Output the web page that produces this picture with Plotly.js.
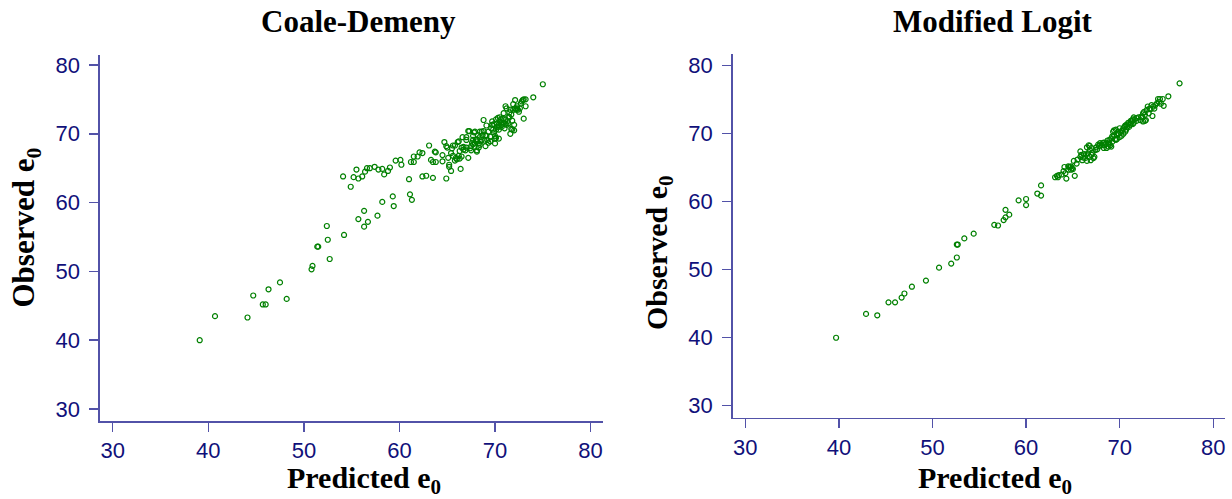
<!DOCTYPE html>
<html>
<head>
<meta charset="utf-8">
<script src="https://cdn.plot.ly/plotly-3.0.1.min.js"></script>
<style>
html,body{margin:0;padding:0;background:#fff;}
#chart{width:1232px;height:499px;}
</style>
</head>
<body>
<div id="chart"></div>
<script>
// Coale-Demeny: predicted vs observed life expectancy at birth
const cdPred = [
39.1,40.7,44.1,44.7,45.7,46.0,46.3,47.5,48.2,50.8,50.9,51.4,51.5,52.4,52.5,52.7,54.2,55.7,56.3,56.3,56.7,57.7,58.2,59.3,59.4,61.1,61.3,61.0,
54.1,54.9,55.2,55.7,56.1,55.5,56.4,56.6,56.9,57.4,57.8,58.2,58.4,58.8,59.0,59.6,60.1,60.2,61.2,61.5,61.5,61.9,62.1,62.4,63.1,63.3,63.5,63.8,62.4,62.8,63.5,63.7,63.8,64.5,64.5,64.7,64.9,65.0,64.9,65.1,65.2,65.2,65.4,65.4,65.6,65.8,65.6,65.9,66.1,66.2,66.2,66.3,66.4,66.5,66.6,66.7,67.0,67.2,67.2,67.3,
65.5,65.8,66.0,66.3,66.5,66.7,66.9,67.0,67.0,67.5,67.7,68.1,68.3,
67.4,67.5,67.6,67.7,67.7,67.8,67.9,68.0,68.1,68.1,68.2,68.3,68.4,68.4,68.5,68.6,68.7,68.8,68.8,68.9,69.0,69.1,69.1,69.2,69.3,69.5,69.6,69.7,69.7,69.8,69.9,70.0,70.0,70.1,70.1,70.2,70.2,70.3,70.4,70.4,70.5,70.6,70.7,70.7,70.8,70.9,70.9,71.0,71.1,71.1,71.2,71.2,71.3,71.4,71.5,71.6,71.6,71.7,71.8,71.8,71.9,71.9,72.0,72.0,72.1,72.1,72.2,72.3,72.3,72.4,72.5,72.6,72.7,72.8,72.9,73.0,73.0,73.2,73.2,74.0,75.0,
67.9,68.1,68.4,68.6,69.0,69.3,69.5,69.7,69.9,70.1,70.4,70.5,70.7,71.1,71.4,71.5,71.7,70.0,70.4
];
const cdObs = [
40.0,43.5,43.3,46.5,45.2,45.2,47.4,48.4,46.0,50.3,50.8,53.6,53.6,56.6,54.6,51.8,55.3,57.6,58.8,56.5,57.2,58.1,60.1,60.9,59.5,61.2,60.4,63.4,
63.8,62.3,63.7,63.5,63.8,64.8,64.5,65.0,65.0,65.2,64.8,64.9,64.1,64.6,65.1,66.1,66.2,65.5,65.9,65.9,66.7,66.7,67.3,67.2,68.3,66.2,65.9,65.9,63.8,63.9,63.6,67.4,67.3,66.9,66.0,68.8,68.2,68.0,63.5,66.5,65.5,65.2,64.6,67.2,68.3,68.3,66.8,66.5,68.8,68.9,66.8,66.4,64.9,68.0,69.5,67.7,69.5,66.5,70.4,70.4,
67.9,66.1,66.3,67.5,66.7,68.1,67.6,69.1,68.0,67.6,68.5,67.4,68.6,
67.9,68.2,68.7,69.1,69.7,70.2,68.6,69.1,67.6,69.2,69.8,68.0,70.3,69.5,68.9,69.1,69.8,70.4,72.0,69.0,68.2,69.7,71.2,69.1,68.7,68.9,70.8,71.8,71.3,70.6,70.2,69.7,69.3,69.4,72.1,71.0,71.5,72.3,70.6,71.3,71.8,72.1,71.0,71.3,72.2,71.6,73.0,70.8,72.1,74.0,73.7,71.3,71.8,72.5,73.1,73.5,70.0,70.7,71.9,70.6,73.5,74.3,71.3,70.5,74.9,73.7,73.5,73.7,74.0,73.5,73.2,73.7,74.4,74.7,74.9,72.2,75.0,74.0,75.0,75.3,77.2,
70.3,68.9,68.4,70.3,69.8,70.3,69.6,71.3,71.4,70.6,71.0,72.4,71.6,71.5,71.5,72.4,72.8,68.6,69.3
];

// Modified Logit: predicted vs observed life expectancy at birth
const mlPred = [
39.7,42.9,44.1,45.3,46.0,46.7,47.0,47.8,49.3,50.7,52.0,52.6,52.6,52.7,53.4,54.4,56.6,57.0,57.6,57.8,57.8,58.2,59.2,60.0,60.0,61.2,61.6,61.6,
63.1,63.3,63.5,63.4,64.1,64.3,64.5,64.7,64.9,64.8,65.0,65.2,64.2,64.5,65.4,65.5,65.8,65.8,66.0,66.3,66.4,66.5,65.9,66.6,66.8,66.8,66.9,67.0,67.1,67.2,66.7,66.5,66.8,
67.4,67.5,67.6,67.8,67.9,68.1,68.3,68.3,68.4,68.5,68.6,68.7,68.8,68.9,69.0,69.1,69.1,69.2,69.3,69.4,69.5,69.6,69.7,69.7,69.9,70.0,70.0,70.1,70.2,70.3,70.4,70.5,70.6,70.7,70.7,70.8,70.9,71.0,71.1,71.2,71.3,71.4,71.5,71.6,71.8,72.0,72.2,72.3,72.5,72.5,72.6,72.7,72.9,73.0,73.1,73.2,73.3,73.4,73.5,73.6,73.7,73.8,74.0,74.1,74.2,74.3,74.4,74.6,74.7,75.2,76.4,
69.8,69.4,70.2,68.9,68.2,67.3,66.1,69.6,70.6,71.0,71.8,72.4,67.7,67.0,66.2,64.8,64.6,69.2,68.8,70.4,71.4,65.1,63.8,64.0,72.8,72.7,71.5,71.2
];
const mlObs = [
40.0,43.5,43.3,45.2,45.2,45.9,46.5,47.5,48.4,50.3,50.9,51.8,53.7,53.7,54.6,55.3,56.6,56.5,57.3,57.7,58.8,58.1,60.2,60.4,59.5,61.2,62.4,60.9,
63.6,63.8,63.9,63.6,65.1,63.4,65.2,65.1,64.9,64.7,64.8,63.8,64.2,64.7,65.6,66.2,66.6,67.4,66.1,66.4,66.9,66.0,66.9,67.1,66.6,67.6,66.1,66.9,67.2,66.4,68.3,68.0,68.2,
67.6,68.0,67.7,68.2,68.6,68.3,68.7,67.9,68.3,68.5,67.9,69.0,68.7,69.1,68.3,69.3,68.1,68.8,70.3,69.7,69.2,70.6,69.8,69.2,70.0,70.8,69.5,70.2,69.7,70.5,70.0,71.0,70.3,70.6,71.3,71.0,71.6,71.0,71.3,71.5,71.9,72.1,71.6,72.1,72.3,72.4,72.0,72.5,71.8,73.0,73.2,72.8,73.5,74.0,73.0,73.7,73.6,74.2,72.6,74.0,73.7,74.2,74.5,75.1,74.7,75.1,74.4,75.1,74.1,75.5,77.4,
70.0,70.5,70.4,68.5,68.6,66.6,66.5,69.1,71.2,71.6,71.9,72.4,68.4,67.9,67.0,65.2,65.1,69.6,68.1,70.8,71.4,66.0,64.0,64.5,72.0,71.9,72.4,71.9
];

const ticks = [30, 40, 50, 60, 70, 80];
const tickText = ['30', '40', '50', '60', '70', '80'];

const axisColor = '#5252a8';
const labelColor = '#10107a';
const serif = 'Liberation Serif, Times New Roman, serif';

const marker = {symbol: 'circle-open', size: 5, color: '#008000', line: {width: 1.2, color: '#008000'}};

const traces = [
  {x: cdPred, y: cdObs, type: 'scatter', mode: 'markers', marker: marker, xaxis: 'x', yaxis: 'y', hoverinfo: 'none'},
  {x: mlPred, y: mlObs, type: 'scatter', mode: 'markers', marker: marker, xaxis: 'x2', yaxis: 'y2', hoverinfo: 'none'}
];

function ax(domain, range, anchor, isY) {
  return {
    domain: domain, range: range, anchor: anchor,
    tickmode: 'array', tickvals: ticks, ticktext: tickText,
    showline: true, linecolor: axisColor, linewidth: 1.6,
    ticks: 'outside', ticklen: 9, tickwidth: 1.5, tickcolor: axisColor,
    showgrid: false, zeroline: false,
    ticklabelstandoff: isY ? 5 : 0,
    tickfont: {family: 'Liberation Sans, Arial, sans-serif', size: 22, color: labelColor}
  };
}

const layout = {
  width: 1232, height: 499,
  margin: {l: 0, r: 0, t: 0, b: 0},
  paper_bgcolor: '#fff', plot_bgcolor: '#fff',
  showlegend: false,
  xaxis: ax([0.0812, 0.4894], [28.67, 81.29], 'y', false),
  yaxis: ax([0.1563, 0.8898], [28.26, 81.45], 'x', true),
  xaxis2: ax([0.5947, 0.9943], [28.65, 81.25], 'y2', false),
  yaxis2: ax([0.1629, 0.8918], [28.24, 81.72], 'x2', true),
  annotations: [
    {text: '<b>Coale-Demeny</b>', x: 0.2906, y: 0.956, xref: 'paper', yref: 'paper', xanchor: 'center', yanchor: 'middle', showarrow: false, font: {family: serif, size: 31, color: '#000'}},
    {text: '<b>Modified Logit</b>', x: 0.8064, y: 0.956, xref: 'paper', yref: 'paper', xanchor: 'center', yanchor: 'middle', showarrow: false, font: {family: serif, size: 31, color: '#000'}},
    {text: '<b>Observed e<sub>0</sub></b>', x: 0.0215, y: 0.545, xref: 'paper', yref: 'paper', xanchor: 'center', yanchor: 'middle', textangle: -90, showarrow: false, font: {family: serif, size: 31, color: '#000'}},
    {text: '<b>Observed e<sub>0</sub></b>', x: 0.535, y: 0.493, xref: 'paper', yref: 'paper', xanchor: 'center', yanchor: 'middle', textangle: -90, showarrow: false, font: {family: serif, size: 30, color: '#000'}},
    {text: '<b>Predicted e<sub>0</sub></b>', x: 0.2955, y: 0.039, xref: 'paper', yref: 'paper', xanchor: 'center', yanchor: 'middle', showarrow: false, font: {family: serif, size: 30, color: '#000'}},
    {text: '<b>Predicted e<sub>0</sub></b>', x: 0.8076, y: 0.039, xref: 'paper', yref: 'paper', xanchor: 'center', yanchor: 'middle', showarrow: false, font: {family: serif, size: 30, color: '#000'}}
  ]
};

Plotly.newPlot('chart', traces, layout, {displayModeBar: false, staticPlot: true});
</script>
</body>
</html>
